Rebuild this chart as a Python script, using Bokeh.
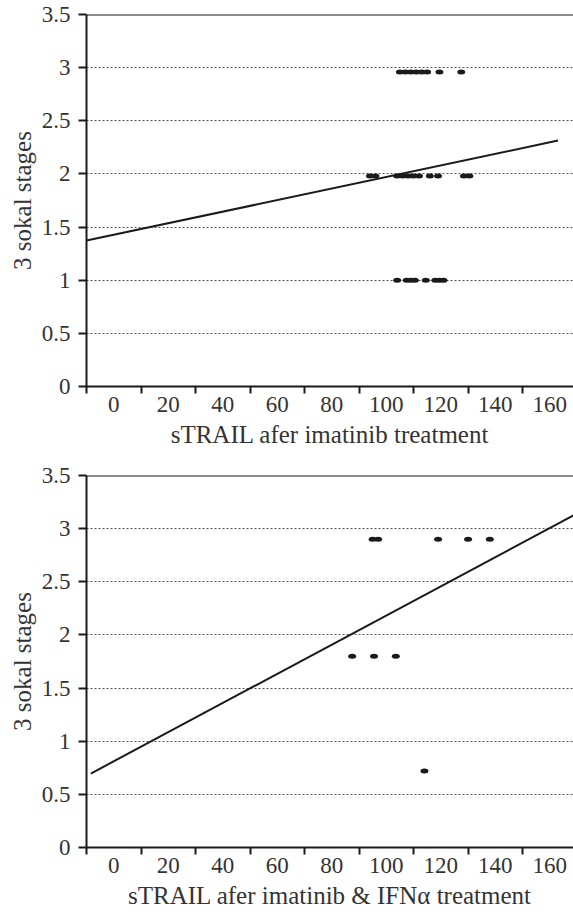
from bokeh.plotting import figure
from bokeh.layouts import column
from bokeh.models import Range1d, FixedTicker, Span, CustomJSTickFormatter
from bokeh.embed import file_html
from bokeh.resources import INLINE

# ---- data: top chart (after imatinib) ----
top_x = [105, 107, 109, 111, 113, 115, 119.5, 127.5,
         94, 96, 104, 106, 108, 110, 112, 116, 119, 128.5, 130.5,
         104, 107.5, 109, 110.5, 114.5, 118, 119.5, 121]
top_y = [2.96, 2.96, 2.96, 2.96, 2.96, 2.96, 2.96, 2.96,
         1.98, 1.98, 1.98, 1.98, 1.98, 1.98, 1.98, 1.98, 1.98, 1.98, 1.98,
         1.0, 1.0, 1.0, 1.0, 1.0, 1.0, 1.0, 1.0]
top_fit_x = [-10, 163]
top_fit_y = [1.373, 2.314]

# ---- data: bottom chart (after imatinib & IFN-alpha) ----
bot_x = [95, 97, 119, 130, 138, 87.5, 95.5, 103.5, 114]
bot_y = [2.9, 2.9, 2.9, 2.9, 2.9, 1.8, 1.8, 1.8, 0.72]
bot_fit_x = [-8.4, 172]
bot_fit_y = [0.696, 3.17]

x_tick_labels = [0, 20, 40, 60, 80, 100, 120, 140, 160]
x_tick_marks = [-10, 10, 30, 50, 70, 90, 110, 130, 150]
y_ticks = [0, 0.5, 1, 1.5, 2, 2.5, 3, 3.5]
grid_ticks = [0.5, 1, 1.5, 2, 2.5, 3]

y_title = "3 sokal stages"
top_title = "sTRAIL afer imatinib treatment"
bot_title = "sTRAIL afer imatinib & IFN\u03b1 treatment"

FONT = "Liberation Serif"
TXT = "#333333"
INK = "#1a1a1a"


def make(xs, ys, fx, fy, xlabel, height, top, bottom):
    p = figure(width=573, height=height,
               x_range=Range1d(-10, 168.7), y_range=Range1d(0, 3.5),
               output_backend="svg", toolbar_location=None,
               min_border_left=86, min_border_right=0,
               min_border_top=top, min_border_bottom=bottom)
    p.outline_line_color = None
    p.background_fill_color = "white"
    p.border_fill_color = "white"

    xa = p.xaxis[0]
    xa.ticker = FixedTicker(ticks=x_tick_labels, minor_ticks=x_tick_marks)
    xa.formatter = CustomJSTickFormatter(code="return tick.toString()")
    xa.major_tick_out = 0
    xa.major_tick_in = 0
    xa.minor_tick_out = 7
    xa.minor_tick_in = 0
    xa.minor_tick_line_width = 2
    xa.minor_tick_line_color = INK
    xa.axis_line_width = 2
    xa.axis_line_color = INK
    xa.major_label_standoff = 3
    xa.major_label_text_font = FONT
    xa.major_label_text_font_size = "23px"
    xa.major_label_text_color = TXT
    xa.axis_label = xlabel
    xa.axis_label_standoff = 6
    xa.axis_label_text_font = FONT
    xa.axis_label_text_font_size = "25px"
    xa.axis_label_text_font_style = "normal"
    xa.axis_label_text_color = TXT

    ya = p.yaxis[0]
    ya.ticker = FixedTicker(ticks=y_ticks)
    ya.formatter = CustomJSTickFormatter(code="return tick.toString()")
    ya.major_tick_out = 8
    ya.major_tick_in = 0
    ya.major_tick_line_width = 2
    ya.major_tick_line_color = INK
    ya.minor_tick_out = 0
    ya.minor_tick_in = 0
    ya.axis_line_width = 2
    ya.axis_line_color = INK
    ya.major_label_standoff = 8
    ya.major_label_text_font = FONT
    ya.major_label_text_font_size = "23px"
    ya.major_label_text_color = TXT
    ya.axis_label = y_title
    ya.axis_label_standoff = 3
    ya.axis_label_text_font = FONT
    ya.axis_label_text_font_size = "25px"
    ya.axis_label_text_font_style = "normal"
    ya.axis_label_text_color = TXT

    p.xgrid.visible = False
    p.ygrid.ticker = FixedTicker(ticks=grid_ticks)
    p.ygrid.grid_line_color = "#555555"
    p.ygrid.grid_line_dash = "2 2"
    p.ygrid.grid_line_width = 1

    p.add_layout(Span(location=3.5, dimension="width", line_color=INK, line_width=2))

    p.line(fx, fy, line_color=INK, line_width=2)
    p.ellipse(x=xs, y=ys, width=8, height=5, width_units="screen",
              height_units="screen", fill_color=INK, line_color=None)
    return p


p1 = make(top_x, top_y, top_fit_x, top_fit_y, top_title, 455, 14, 69)
p2 = make(bot_x, bot_y, bot_fit_x, bot_fit_y, bot_title, 457, 20, 65)

layout = column(p1, p2)
open("out.html", "w").write(file_html(layout, INLINE))
